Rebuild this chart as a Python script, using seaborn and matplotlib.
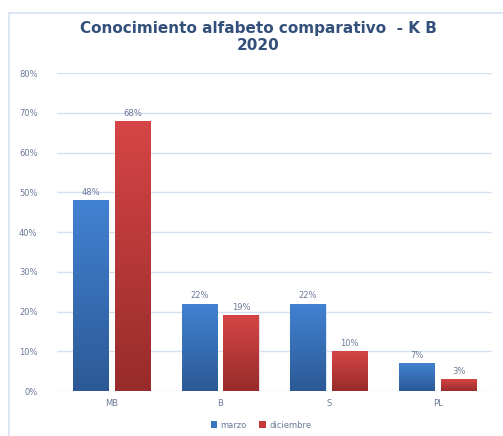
import numpy as np
import pandas as pd
import matplotlib
matplotlib.use("Agg")
import matplotlib.pyplot as plt
import seaborn as sns
from matplotlib.colors import LinearSegmentedColormap
from matplotlib.lines import Line2D
from matplotlib.patches import Patch

categories = ["MB", "B", "S", "PL"]
marzo = [48, 22, 22, 7]
diciembre = [68, 19, 10, 3]
series_names = ["marzo", "diciembre"]
yticks = [0, 10, 20, 30, 40, 50, 60, 70, 80]

df = pd.DataFrame({
    "cat": categories * 2,
    "val": marzo + diciembre,
    "serie": [series_names[0]] * len(categories) + [series_names[1]] * len(categories),
})

sns.set_style("white")
plt.rcParams["font.family"] = ["DejaVu Sans"]

W, H = 503, 436
fig = plt.figure(figsize=(W / 100, H / 100), dpi=100)
ax = fig.add_axes([57 / W, 1 - 391 / H, (492 - 57) / W, (391 - 73) / H])

base = {"marzo": "#3A76C0", "diciembre": "#C43A3A"}
sns.barplot(data=df, x="cat", y="val", hue="serie", order=categories,
            hue_order=series_names, palette=base, width=0.77, gap=0.16,
            ax=ax, legend=False, saturation=1)

ax.set_ylim(0, 80)
ax.set_yticks(yticks)
ax.set_yticklabels([f"{t}%" for t in yticks])
ax.set_xlabel("")
ax.set_ylabel("")
ax.grid(axis="y", color="#D6E2F2", linewidth=1.0)
ax.set_axisbelow(True)
for s in ax.spines.values():
    s.set_visible(False)
ax.tick_params(axis="y", length=0, labelsize=6, labelcolor="#6A7A99", pad=14)
ax.tick_params(axis="x", length=0, labelsize=6, labelcolor="#6A7A99", pad=6)

grads = {
    "marzo": LinearSegmentedColormap.from_list("b", ["#2C5996", "#4282D2"]),
    "diciembre": LinearSegmentedColormap.from_list("r", ["#982B2B", "#D64545"]),
}
n = len(categories)
grad = np.linspace(0, 1, 256).reshape(-1, 1)
for i, p in enumerate(ax.patches):
    serie = series_names[i // n]
    x0, y0 = p.get_x(), p.get_y()
    w, h = p.get_width(), p.get_height()
    im = ax.imshow(grad, cmap=grads[serie], origin="lower", aspect="auto",
                   extent=[x0, x0 + w, y0, y0 + h], zorder=2, interpolation="bilinear")
    im.set_clip_path(p)
    p.set_edgecolor("#E8EEF6")
    p.set_linewidth(0.6)
    ax.text(x0 + w / 2, y0 + h + 0.8, f"{int(round(h))}%", ha="center", va="bottom",
            fontsize=6, color="#6A7A99", zorder=3)
ax.set_xlim(-0.5, n - 0.5)
ax.set_ylim(0, 80)

fig.text(258 / W, 1 - 37 / H, "Conocimiento alfabeto comparativo  - K B\n2020",
         ha="center", va="center", fontsize=11, fontweight="bold",
         color="#33507A", linespacing=1.1)

# chart frame
fig.add_artist(Line2D([9 / W, 9 / W], [0, 1 - 13 / H], transform=fig.transFigure,
                      color="#D6E2F2", linewidth=1.2))
fig.add_artist(Line2D([9 / W, 1], [1 - 13 / H, 1 - 13 / H], transform=fig.transFigure,
                      color="#D6E2F2", linewidth=1.2))

handles = [Patch(facecolor="#3A76C0", edgecolor="none"),
           Patch(facecolor="#C43A3A", edgecolor="none")]
fig.legend(handles, series_names, loc="center", bbox_to_anchor=(261 / W, 1 - 425 / H),
           ncol=2, frameon=False, fontsize=6, labelcolor="#6A7A99",
           handlelength=0.8, handleheight=0.8, columnspacing=1.5, handletextpad=0.4)

fig.savefig("out.png", dpi=100, facecolor="white")
